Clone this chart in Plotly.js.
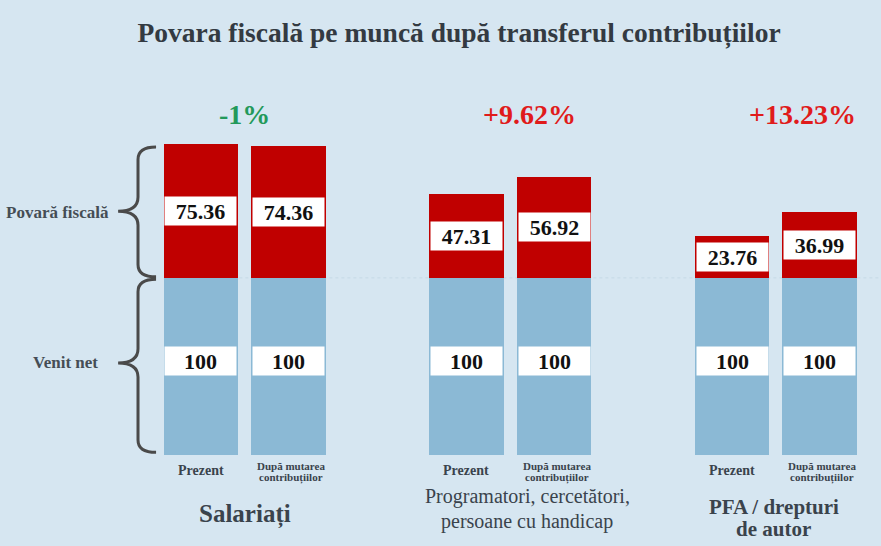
<!DOCTYPE html>
<html>
<head>
<meta charset="utf-8">
<script src="https://cdn.plot.ly/plotly-3.0.1.min.js"></script>
<style>html,body{margin:0;padding:0;background:#d6e6f1;}#chart{width:881px;height:546px;}</style>
</head>
<body>
<div id="chart"></div>
<script>
// ---- data ----
const groups = ["Salariați", "Programatori, cercetători,<br>persoane cu handicap", "PFA / drepturi<br>de autor"];
const barLabels = ["Prezent", "După mutarea<br>contribuțiilor"];
const netIncome = [100, 100, 100];
const burdenNow = [75.36, 47.31, 23.76];
const burdenAfter = [74.36, 56.92, 36.99];
const changeText = ["-1%", "+9.62%", "+13.23%"];
const changeSign = [-1, 1, 1];
const sideLabels = ["Povară fiscală", "Venit net"];

// ---- layout helpers ----
const OFF = 0.1648, BW = 0.2806;
const gx = groups.map((g, i) => i);
const xNow = gx.map(i => i - OFF);
const xAfter = gx.map(i => i + OFF);

const BLUE = "#8bb9d5", RED = "#c00000", BG = "#d6e6f1";
const SERIF = "Liberation Serif";
const TXT = "#3a434c";

function bar(x, y, color) {
  return {type: "bar", x: x, y: y, width: BW, marker: {color: color, line: {width: 0}},
          hoverinfo: "skip", showlegend: false};
}
const traces = [
  bar(xNow, netIncome, BLUE), bar(xNow, burdenNow, RED),
  bar(xAfter, netIncome, BLUE), bar(xAfter, burdenAfter, RED)
];

const ann = [];
function box(x, y, v, shift) {
  ann.push({x: x, y: y, xref: "x", yref: "y", text: String(v), showarrow: false,
    bgcolor: "#ffffff", width: 71, height: 28, borderpad: 0, yshift: shift || 0,
    font: {family: SERIF, size: 22, color: "#111", weight: "bold"}});
}
// multi-line label placed line by line (centre of first line at y0 px below axis, step px apart)
function lines(x, text, y0, step, font) {
  text.split("<br>").forEach((t, k) => {
    ann.push({x: x, y: 0, xref: "x", yref: "y", yanchor: "middle", yshift: -(y0 + k * step), text: t,
      showarrow: false, font: font});
  });
}
gx.forEach(i => {
  box(xNow[i], netIncome[i] / 2, netIncome[i], 5);
  box(xAfter[i], netIncome[i] / 2, netIncome[i], 5);
  box(xNow[i], netIncome[i] + burdenNow[i] / 2, burdenNow[i].toFixed(2));
  box(xAfter[i], netIncome[i] + burdenAfter[i] / 2, burdenAfter[i].toFixed(2));
  lines(xNow[i], barLabels[0], 15, 0, {family: SERIF, size: 14, color: TXT, weight: "bold"});
  lines(xAfter[i] + 0.01, barLabels[1], 10.5, 12, {family: SERIF, size: 11, color: TXT, weight: "bold"});
});
const pctShift = [0, 0.072, 0.102];
gx.forEach(i => {
  ann.push({x: i + pctShift[i], y: 192, xref: "x", yref: "y", text: changeText[i], showarrow: false,
    font: {family: SERIF, size: 28, color: changeSign[i] < 0 ? "#23995a" : "#e01b1b", weight: "bold"}});
});
lines(0, groups[0], 59, 0, {family: SERIF, size: 25, color: TXT, weight: "bold"});
lines(1 + 0.064, groups[1], 41, 25, {family: SERIF, size: 20, color: TXT});
lines(2 - 0.008, groups[2], 52, 22, {family: SERIF, size: 21, color: TXT, weight: "bold"});
const maxTop = netIncome[0] + burdenNow[0];
ann.push({x: -0.705, y: (netIncome[0] + maxTop) / 2 - 1, xref: "x", yref: "y", text: sideLabels[0], showarrow: false,
  font: {family: SERIF, size: 17, color: "#454d55", weight: "bold"}});
ann.push({x: -0.675, y: netIncome[0] / 2 + 2.5, xref: "x", yref: "y", text: sideLabels[1], showarrow: false,
  font: {family: SERIF, size: 17, color: "#454d55", weight: "bold"}});

function brace(ytop, ybot, ytip) {
  const xr = -0.334, xm = -0.402, xl = -0.477, d = 7, e = 8;
  return {type: "path", xref: "x", yref: "y", line: {color: "#4a4a4a", width: 3},
    path: `M ${xr},${ytop} Q ${xm},${ytop} ${xm},${ytop - d} L ${xm},${ytip + e} Q ${xm},${ytip} ${xl},${ytip} ` +
          `Q ${xm},${ytip} ${xm},${ytip - e} L ${xm},${ybot + d} Q ${xm},${ybot} ${xr},${ybot}`};
}
const shapes = [
  {type: "line", xref: "paper", yref: "y", x0: 0.19, x1: 1, y0: netIncome[0], y1: netIncome[0],
   line: {color: "#c6d9e6", width: 1, dash: "dot"}, layer: "below"},
  brace(maxTop - 1.5, netIncome[0] + 0.6, (netIncome[0] + maxTop) / 2),
  brace(netIncome[0] - 0.8, 1.5, netIncome[0] / 2 + 2)
];

const layout = {
  width: 881, height: 546,
  paper_bgcolor: BG, plot_bgcolor: BG,
  margin: {l: 0, r: 0, t: 60, b: 91},
  barmode: "stack", bargap: 0,
  font: {family: SERIF},
  title: {text: "Povara fiscală pe muncă după transferul contribuțiilor", x: 0.521, xanchor: "center",
          y: 0.94, yref: "container", yanchor: "middle",
          font: {family: SERIF, size: 27.5, color: "#333a42", weight: "bold"}},
  xaxis: {range: [-0.9218, 2.3964], showgrid: false, zeroline: false, showticklabels: false, fixedrange: true},
  yaxis: {range: [0, 223], showgrid: false, zeroline: false, showticklabels: false, fixedrange: true},
  annotations: ann, shapes: shapes, showlegend: false
};
Plotly.newPlot("chart", traces, layout, {staticPlot: true, displayModeBar: false});
</script>
</body>
</html>
